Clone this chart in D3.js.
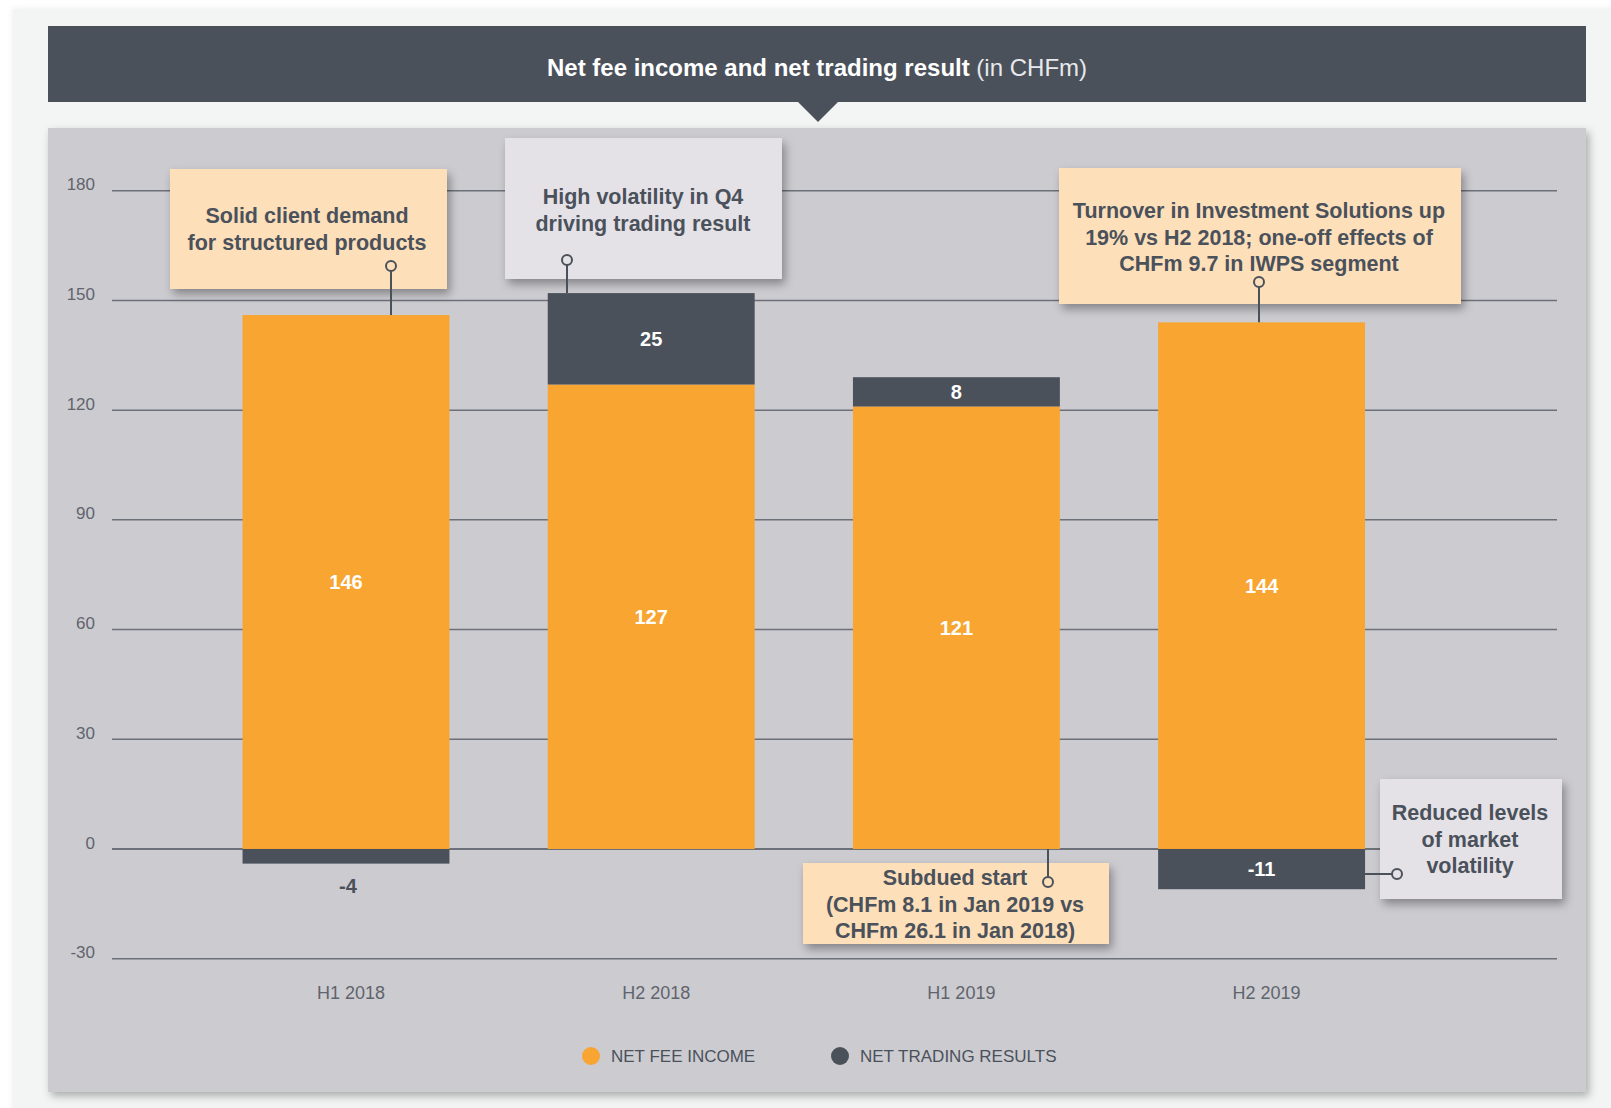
<!DOCTYPE html>
<html><head><meta charset="utf-8">
<script src="https://cdn.jsdelivr.net/npm/d3@7"></script>
<style>
body{margin:0;background:#ffffff;}
svg{display:block;font-family:"Liberation Sans",Arial,Helvetica,sans-serif;}
</style></head>
<body>
<svg id="chart" width="1611" height="1108"></svg>
<script>
// ---- data ----
const categories = ["H1 2018", "H2 2018", "H1 2019", "H2 2019"];
const netFeeIncome = [146, 127, 121, 144];
const netTradingResults = [-4, 25, 8, -11];
const yTicks = [-30, 0, 30, 60, 90, 120, 150, 180];
const seriesNames = ["NET FEE INCOME", "NET TRADING RESULTS"];
const titleBold = "Net fee income and net trading result";
const titleLight = " (in CHFm)";
const noteSolid = ["Solid client demand", "for structured products"];
const noteVolatility = ["High volatility in Q4", "driving trading result"];
const noteTurnover = ["Turnover in Investment Solutions up", "19% vs H2 2018; one-off effects of", "CHFm 9.7 in IWPS segment"];
const noteSubdued = ["Subdued start", "(CHFm 8.1 in Jan 2019 vs", "CHFm 26.1 in Jan 2018)"];
const noteReduced = ["Reduced levels", "of market", "volatility"];

// ---- style ----
const C = {
  orange: "#f8a532", dark: "#4a515b", panel: "#cccbd0", card: "#f3f4f4",
  peach: "#fddfba", lightBox: "#e4e2e6", grid: "#6c7079", tick: "#5f646d"
};

const svg = d3.select("#chart");
const defs = svg.append("defs");
const sh = defs.append("filter").attr("id", "shadow").attr("x", "-20%").attr("y", "-20%").attr("width", "150%").attr("height", "160%");
sh.append("feDropShadow").attr("dx", 3).attr("dy", 5).attr("stdDeviation", 5).attr("flood-color", "#000").attr("flood-opacity", 0.35);
const sh2 = defs.append("filter").attr("id", "panelShadow").attr("x", "-5%").attr("y", "-5%").attr("width", "110%").attr("height", "110%");
sh2.append("feDropShadow").attr("dx", 3).attr("dy", 4).attr("stdDeviation", 4).attr("flood-color", "#000").attr("flood-opacity", 0.3);
const sh3 = defs.append("filter").attr("id", "cardShadow").attr("x", "-5%").attr("y", "-5%").attr("width", "110%").attr("height", "110%");
sh3.append("feDropShadow").attr("dx", 0).attr("dy", 0).attr("stdDeviation", 3).attr("flood-color", "#000").attr("flood-opacity", 0.08);

// card
svg.append("rect").attr("x", 13).attr("y", 9).attr("width", 1611).attr("height", 1120).attr("fill", C.card).attr("filter", "url(#cardShadow)");

// title bar
svg.append("rect").attr("x", 48).attr("y", 26).attr("width", 1538).attr("height", 76).attr("fill", C.dark);
svg.append("path").attr("d", "M797,101 L839,101 L818,122 Z").attr("fill", C.dark);
const title = svg.append("text").attr("x", 817).attr("y", 76).attr("text-anchor", "middle")
  .attr("fill", "#ffffff").attr("font-size", 24);
title.append("tspan").attr("font-weight", "bold").text(titleBold);
title.append("tspan").attr("font-weight", "normal").attr("fill", "#e8e9eb").text(titleLight);

// panel
svg.append("rect").attr("x", 48).attr("y", 128).attr("width", 1538).attr("height", 964).attr("fill", C.panel).attr("filter", "url(#panelShadow)");

// scales
const y = d3.scaleLinear().domain([-30, 180]).range([958.7, 190.7]);
const x = d3.scaleBand().domain(categories).range([193.4, 1414.2]).paddingInner(0.322).paddingOuter(0.161);

// gridlines + y axis
const yAxis = d3.axisLeft(y).tickValues(yTicks).tickSize(0).tickPadding(0).tickFormat(d => String(d));
const gAxis = svg.append("g").attr("transform", "translate(95,0)").call(yAxis);
gAxis.select(".domain").remove();
gAxis.selectAll("text").attr("fill", C.tick).attr("font-size", 17).attr("dy", "-0.05em")
  .attr("font-family", "'Liberation Sans',Arial,sans-serif");
svg.append("g").selectAll("line").data(yTicks).join("line")
  .attr("x1", 112).attr("x2", 1557).attr("y1", d => y(d)).attr("y2", d => y(d))
  .attr("stroke", C.grid).attr("stroke-width", d => d === 0 ? 2 : 1.5);

// x category labels
svg.append("g").selectAll("text").data(categories).join("text")
  .attr("x", d => x(d) + x.bandwidth() / 2 + 5).attr("y", 999)
  .attr("text-anchor", "middle").attr("fill", C.tick).attr("font-size", 18).text(d => d);

// bars
const rows = categories.map((c, i) => ({ c, fee: netFeeIncome[i], tr: netTradingResults[i] }));
const gBars = svg.append("g");
gBars.selectAll("rect.fee").data(rows).join("rect").attr("class", "fee")
  .attr("x", d => x(d.c)).attr("width", x.bandwidth())
  .attr("y", d => y(d.fee)).attr("height", d => y(0) - y(d.fee)).attr("fill", C.orange);
const trY0 = d => d.tr >= 0 ? d.fee : 0;
const trY1 = d => d.tr >= 0 ? d.fee + d.tr : d.tr;
gBars.selectAll("rect.tr").data(rows).join("rect").attr("class", "tr")
  .attr("x", d => x(d.c)).attr("width", x.bandwidth())
  .attr("y", d => y(Math.max(trY0(d), trY1(d))))
  .attr("height", d => Math.abs(y(trY0(d)) - y(trY1(d)))).attr("fill", C.dark);

// value labels
svg.append("g").selectAll("text").data(rows).join("text")
  .attr("x", d => x(d.c) + x.bandwidth() / 2).attr("y", d => (y(0) + y(d.fee)) / 2 + 7)
  .attr("text-anchor", "middle").attr("fill", "#fff").attr("font-weight", "bold").attr("font-size", 20)
  .text(d => d.fee);
svg.append("g").selectAll("text").data(rows).join("text")
  .each(function (d) {
    const h = Math.abs(y(trY0(d)) - y(trY1(d)));
    const inside = h > 25;
    const cx = x(d.c) + x.bandwidth() / 2;
    let yy;
    if (inside) yy = (y(trY0(d)) + y(trY1(d))) / 2 + 7;
    else yy = y(Math.min(trY0(d), trY1(d))) + 29;
    d3.select(this).attr("x", cx + (inside ? 0 : 2)).attr("y", yy).attr("fill", inside ? "#fff" : C.dark);
  })
  .attr("text-anchor", "middle").attr("font-weight", "bold").attr("font-size", 20)
  .text(d => d.tr);

// annotations
const bx = i => x(categories[i]);
const bw = x.bandwidth();
const notes = [
  { lines: noteSolid, box: [170, 169, 277, 120], fill: C.peach, tx: 307, ty: 223, dot: [391, 266], to: [391, y(netFeeIncome[0])] },
  { lines: noteVolatility, box: [505, 138, 277, 141], fill: C.lightBox, tx: 643, ty: 204, dot: [567, 260], to: [567, y(netFeeIncome[1] + netTradingResults[1])] },
  { lines: noteTurnover, box: [1059, 168, 402, 136], fill: C.peach, tx: 1259, ty: 218, dot: [1259, 282], to: [1259, y(netFeeIncome[3])] },
  { lines: noteSubdued, box: [803, 863, 306, 81], fill: C.peach, tx: 955, ty: 885, dot: [1048, 882], to: [1048, y(0)] },
  { lines: noteReduced, box: [1380, 779, 182, 120], fill: C.lightBox, tx: 1470, ty: 820, dot: [1397, 874], to: [bx(3) + bw, 874] }
];
const gN = svg.append("g");
notes.forEach(n => {
  const g = gN.append("g");
  g.append("rect").attr("x", n.box[0]).attr("y", n.box[1]).attr("width", n.box[2]).attr("height", n.box[3])
    .attr("fill", n.fill).attr("filter", "url(#shadow)");
});
notes.forEach(n => {
  const g = gN.append("g");
  g.append("line").attr("x1", n.dot[0]).attr("y1", n.dot[1]).attr("x2", n.to[0]).attr("y2", n.to[1])
    .attr("stroke", C.dark).attr("stroke-width", 2);
  const t = g.append("text").attr("text-anchor", "middle").attr("fill", C.dark)
    .attr("font-weight", "bold").attr("font-size", 21.5);
  n.lines.forEach((l, i) => t.append("tspan").attr("x", n.tx).attr("y", n.ty + i * 26.5).text(l));
  g.append("circle").attr("cx", n.dot[0]).attr("cy", n.dot[1]).attr("r", 5)
    .attr("fill", n.fill).attr("stroke", C.dark).attr("stroke-width", 2);
});

// legend
const legColors = [C.orange, C.dark];
const legX = [591, 840];
const gL = svg.append("g");
seriesNames.forEach((s, i) => {
  gL.append("circle").attr("cx", legX[i]).attr("cy", 1056).attr("r", 9).attr("fill", legColors[i]);
  gL.append("text").attr("x", legX[i] + 20).attr("y", 1062).attr("fill", C.dark).attr("font-size", 17).text(s);
});
</script>
</body></html>
